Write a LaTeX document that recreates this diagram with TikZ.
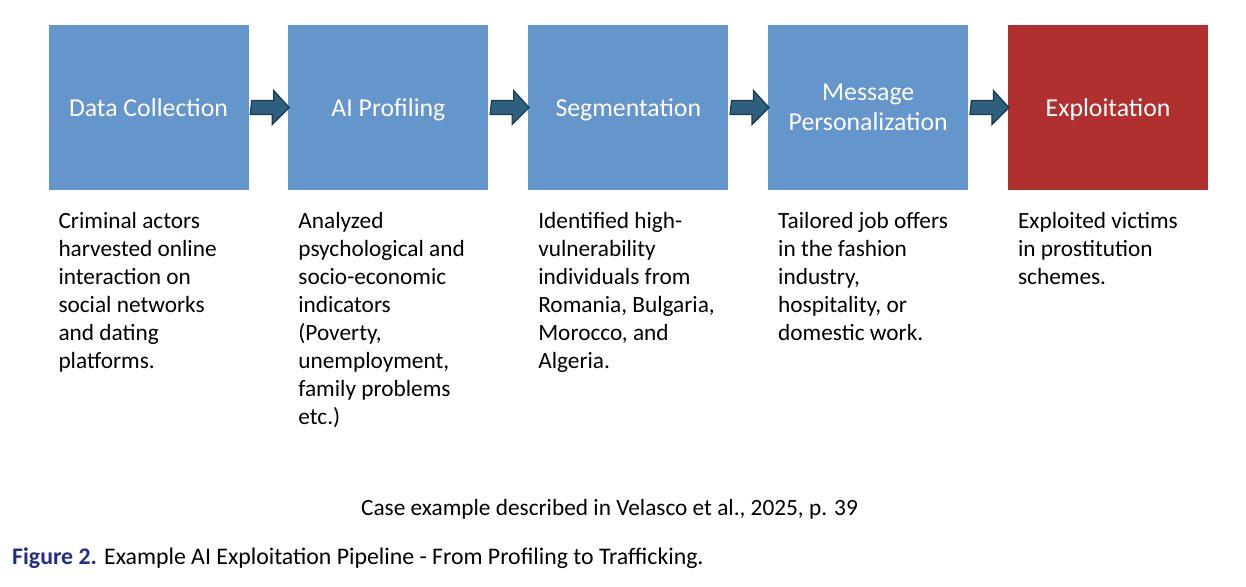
\documentclass[tikz,border=0pt]{standalone}
\usepackage{fontspec}
\setmainfont{Carlito}
\usetikzlibrary{positioning}

\definecolor{stageblue}{RGB}{100,149,203}
\definecolor{stagered}{RGB}{176,48,48}
\definecolor{arrowfill}{RGB}{46,95,127}
\definecolor{arrowline}{RGB}{27,58,78}
\definecolor{figblue}{RGB}{35,45,140}

\tikzset{
  stage/.style = {fill=stageblue, text=white, minimum width=200pt, minimum height=165pt,
                  inner sep=0pt, align=center, font=\fontsize{25.8}{30}\selectfont,
                  text depth=0pt, execute at begin node=\vphantom{l}},
  desc/.style  = {inner sep=0pt, align=left, font=\fontsize{23.3}{28}\selectfont},
  flowarrow/.style = {fill=arrowfill, draw=arrowline, line width=1.2pt, line join=miter},
}

\begin{document}
\begin{tikzpicture}[x=1pt,y=1pt]
  \useasboundingbox (0,0) rectangle (1246,-586);

  \node [stage] (collect) at (148.5,-107.5) {Data Collection};
  \node [stage, right=39.5pt of collect] (profile) {AI Profiling};
  \node [stage, right=39.5pt of profile] (segment) {Segmentation};
  \node [stage, right=39.5pt of segment] (message) {Message\\Personalization};
  \node [stage, right=39.5pt of message, fill=stagered] (exploit) {Exploitation};

  \foreach \a/\b in {collect/profile, profile/segment, segment/message, message/exploit}
    \draw [flowarrow] ([xshift=3pt,yshift=7pt]\a.east) -- ++(22,0) -- ++(0,10)
      -- ([xshift=1pt]\b.west) -- ++(-17,-17) -- ++(0,10) -- ++(-22,0) -- cycle;

  \node [desc, below right=22pt and 10pt of collect.south west] (collectTxt)
    {Criminal actors\\harvested online\\interaction on\\social networks\\and dating\\platforms.};
  \node [desc, below right=22pt and 10pt of profile.south west] (profileTxt)
    {Analyzed\\psychological and\\socio-economic\\indicators\\(Poverty,\\unemployment,\\family problems\\etc.)};
  \node [desc, below right=22pt and 10pt of segment.south west] (segmentTxt)
    {Identified high-\\vulnerability\\individuals from\\Romania, Bulgaria,\\Morocco, and\\Algeria.};
  \node [desc, below right=22pt and 10pt of message.south west] (messageTxt)
    {Tailored job offers\\in the fashion\\industry,\\hospitality, or\\domestic work.};
  \node [desc, below right=22pt and 10pt of exploit.south west] (exploitTxt)
    {Exploited victims\\in prostitution\\schemes.};

  \node [anchor=base, inner sep=0pt, font=\fontsize{23.3}{28}\selectfont]
    (source) at (609.5,-515) {Case example described in Velasco et al., 2025, p. 39};
  \node [anchor=base west, inner sep=0pt, font=\fontsize{23.8}{28}\selectfont]
    (caption) at (12,-564) {\textcolor{figblue}{\textbf{Figure 2.}} Example AI Exploitation Pipeline - From Profiling to Trafficking.};
\end{tikzpicture}
\end{document}
